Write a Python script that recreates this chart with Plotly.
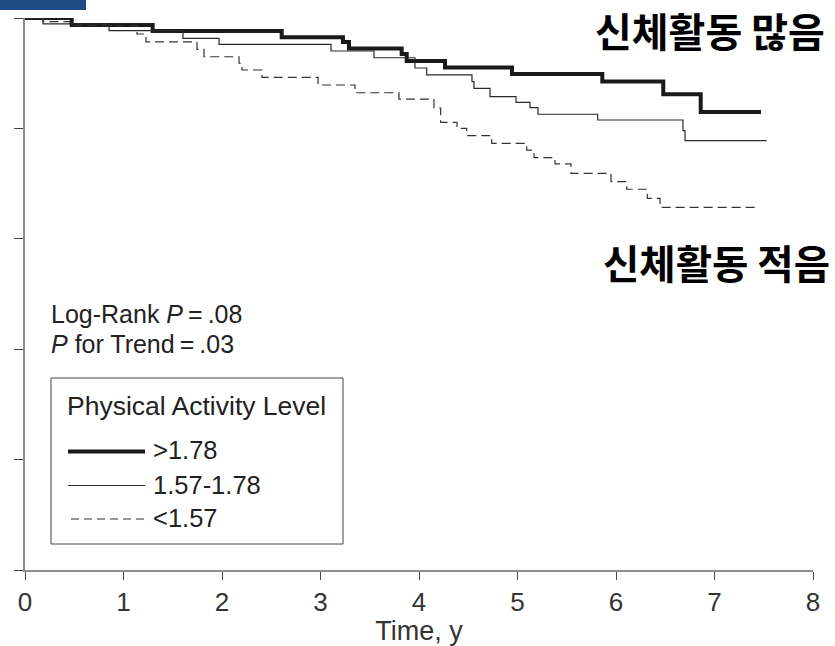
import plotly.graph_objects as go

# ---- data ----
time_high = [0, 0.474, 1.296, 2.606, 3.228, 3.289, 3.824, 3.875, 4.264, 4.944, 5.861, 6.480, 6.860, 7.472]
surv_high = [1.0, 0.9937, 0.9882, 0.9826, 0.9783, 0.9724, 0.9675, 0.9611, 0.9552, 0.9492, 0.9424, 0.9310, 0.9149, 0.9149]

time_mid = [0, 0.183, 0.853, 1.604, 1.970, 3.107, 3.543, 3.959, 4.078, 4.538, 4.558, 4.721, 4.985, 5.127, 5.208, 5.814, 6.680, 6.701, 7.530]
surv_mid = [1.0, 0.9946, 0.9885, 0.9816, 0.9762, 0.9701, 0.9640, 0.9547, 0.9484, 0.9423, 0.9363, 0.9287, 0.9236, 0.9188, 0.9128, 0.9076, 0.8979, 0.8889, 0.8889]

time_low = [0, 0.183, 0.457, 1.137, 1.228, 1.746, 1.817, 2.173, 2.203, 2.406, 2.975, 3.350, 3.797, 4.152, 4.220, 4.386, 4.484, 4.738, 5.093, 5.168, 5.381, 5.543, 5.949, 6.108, 6.318, 6.447, 7.438]
surv_low = [1.0, 0.9967, 0.9930, 0.9855, 0.9783, 0.9716, 0.9649, 0.9590, 0.9529, 0.9463, 0.9393, 0.9323, 0.9266, 0.9185, 0.9055, 0.9001, 0.8934, 0.8865, 0.8804, 0.8735, 0.8678, 0.8593, 0.8517, 0.8449, 0.8367, 0.8285, 0.8285]

series_names = [">1.78", "1.57-1.78", "<1.57"]
x_ticks = [0, 1, 2, 3, 4, 5, 6, 7, 8]
y_ticks = [0.5, 0.6, 0.7, 0.8, 0.9, 1.0]

# ---- layout helpers (pixel -> paper) ----
W, H = 835, 646
PL, PT, PR, PB = 25, 18, 22, 76
PW, PH = W - PL - PR, H - PT - PB


def px(x):
    return (x - PL) / PW


def py(y):
    return (PT + PH - y) / PH


FONT = "Liberation Sans, Arial, sans-serif"
KFONT = "Noto Sans CJK KR, Noto Sans CJK SC, sans-serif"

fig = go.Figure()
fig.add_trace(go.Scatter(x=time_high, y=surv_high, mode="lines", line_shape="hv",
                         line=dict(color="#1a1a1a", width=4), name=series_names[0],
                         cliponaxis=False, showlegend=False))
fig.add_trace(go.Scatter(x=time_mid, y=surv_mid, mode="lines", line_shape="hv",
                         line=dict(color="#2a2a2a", width=1.2), name=series_names[1],
                         cliponaxis=False, showlegend=False))
fig.add_trace(go.Scatter(x=time_low, y=surv_low, mode="lines", line_shape="hv",
                         line=dict(color="#333333", width=1.2, dash="9px,5px"), name=series_names[2],
                         cliponaxis=False, showlegend=False))

shapes = []
# blue header block
shapes.append(dict(type="rect", xref="paper", yref="paper", x0=px(0), x1=px(86), y0=py(10), y1=py(0),
                   fillcolor="#1F4B85", line=dict(width=0), layer="above"))
# legend box
shapes.append(dict(type="rect", xref="paper", yref="paper", x0=px(51), x1=px(343), y0=py(544), y1=py(378),
                   line=dict(color="#444444", width=1), fillcolor="rgba(0,0,0,0)"))
# legend keys
leg_y = [451.5, 485.5, 519]
leg_styles = [dict(color="#1a1a1a", width=4), dict(color="#2a2a2a", width=1.2),
              dict(color="#333333", width=1.2, dash="8px,5px")]
for yy, st, x0 in zip(leg_y, leg_styles, [68, 68, 71]):
    shapes.append(dict(type="line", xref="paper", yref="paper", x0=px(x0), x1=px(145), y0=py(yy), y1=py(yy),
                       line=st))

annotations = []
annotations.append(dict(text="Log-Rank <i>P</i>\u2009=\u2009.08", x=px(49), y=py(314), xref="paper", yref="paper",
                        xanchor="left", yanchor="middle", showarrow=False,
                        font=dict(family=FONT, size=25, color="#222222")))
annotations.append(dict(text="<i>P</i> for Trend\u2009=\u2009.03", x=px(49), y=py(344), xref="paper", yref="paper",
                        xanchor="left", yanchor="middle", showarrow=False,
                        font=dict(family=FONT, size=25, color="#222222")))
annotations.append(dict(text="Physical Activity Level", x=px(65), y=py(406), xref="paper", yref="paper",
                        xanchor="left", yanchor="middle", showarrow=False,
                        font=dict(family=FONT, size=26.5, color="#222222")))
for name, yy in zip(series_names, [450, 485, 518]):
    annotations.append(dict(text=name, x=px(151), y=py(yy), xref="paper", yref="paper",
                            xanchor="left", yanchor="middle", showarrow=False,
                            font=dict(family=FONT, size=25.5, color="#222222")))
annotations.append(dict(text="<b>신체활동 많음</b>", x=px(827), y=py(30), xref="paper", yref="paper",
                        xanchor="right", yanchor="middle", showarrow=False,
                        font=dict(family=KFONT, size=40, color="#000000")))
annotations.append(dict(text="<b>신체활동 적음</b>", x=px(832), y=py(261), xref="paper", yref="paper",
                        xanchor="right", yanchor="middle", showarrow=False,
                        font=dict(family=KFONT, size=39.5, color="#000000")))

fig.update_layout(
    width=W, height=H,
    margin=dict(l=PL, r=PR, t=PT, b=PB, pad=0, autoexpand=False),
    plot_bgcolor="white", paper_bgcolor="white",
    showlegend=False,
    shapes=shapes, annotations=annotations,
    xaxis=dict(range=[0, 8], tickvals=x_ticks, ticktext=[str(v) for v in x_ticks],
               automargin=False,
               showgrid=False, zeroline=False, showline=True, linecolor="#8c8c8c", linewidth=2,
               ticks="outside", ticklen=8, tickcolor="#444444", tickwidth=1,
               tickfont=dict(family=FONT, size=26, color="#333333"),
               title=dict(text="Time, y", font=dict(family=FONT, size=27, color="#333333"), standoff=4)),
    yaxis=dict(range=[0.5, 1.0], tickvals=y_ticks, showticklabels=False, automargin=False,
               showgrid=False, zeroline=False, showline=True, linecolor="#8c8c8c", linewidth=2,
               ticks="outside", ticklen=9, tickcolor="#444444", tickwidth=1),
)

fig.write_html("out.html", config={"displayModeBar": False},
               post_script="document.body.style.margin='0px';document.body.style.padding='0px';")
